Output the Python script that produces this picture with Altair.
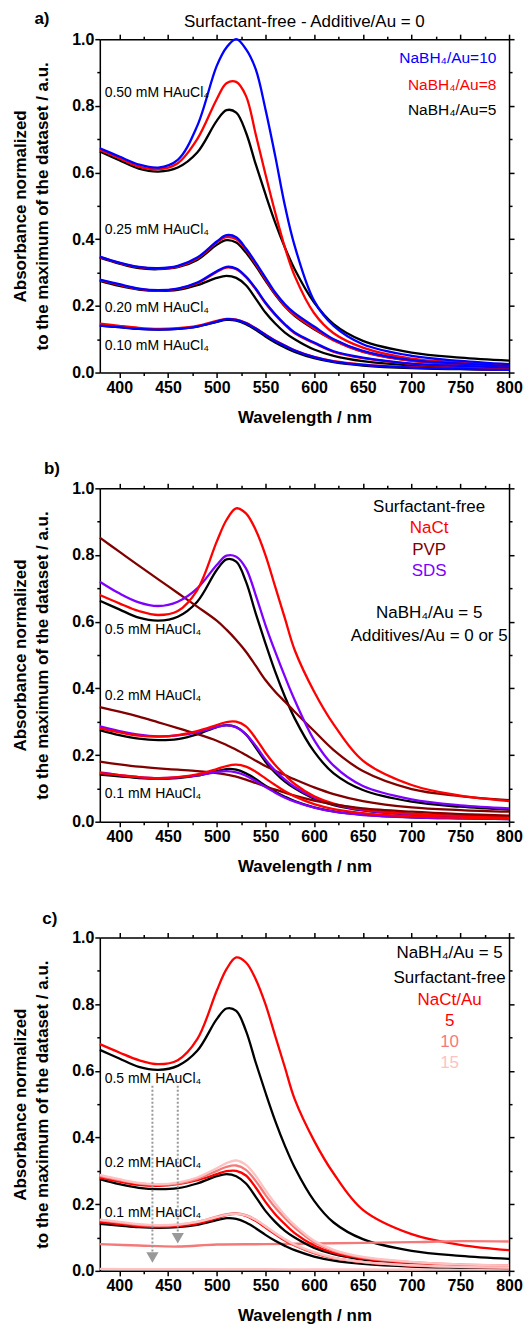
import altair as alt
import pandas as pd

FONT = "Liberation Sans"

# ---------------- data ----------------
WL = [380, 400, 420, 440, 460, 480, 500, 510, 520, 530, 540, 550, 560, 570, 580, 600, 620, 650, 700, 750, 800]

# Surfactant-free, NaBH4/Au = 5 (shared by all panels)
SF5_050 = [0.663, 0.637, 0.612, 0.603, 0.615, 0.66, 0.755, 0.787, 0.78, 0.72, 0.625, 0.535, 0.45, 0.375, 0.31, 0.21, 0.145, 0.095, 0.06, 0.045, 0.036]
SF5_025 = [0.345, 0.327, 0.313, 0.31, 0.316, 0.338, 0.383, 0.397, 0.39, 0.36, 0.32, 0.276, 0.234, 0.198, 0.17, 0.13, 0.098, 0.063, 0.036, 0.026, 0.02]
SF5_020 = [0.275, 0.26, 0.249, 0.245, 0.248, 0.262, 0.284, 0.29, 0.284, 0.262, 0.222, 0.18, 0.147, 0.12, 0.1, 0.069, 0.05, 0.034, 0.021, 0.016, 0.013]
SF5_010 = [0.141, 0.136, 0.131, 0.129, 0.131, 0.138, 0.152, 0.158, 0.156, 0.145, 0.128, 0.108, 0.09, 0.075, 0.062, 0.043, 0.031, 0.021, 0.013, 0.01, 0.008]

# panel a: NaBH4/Au = 10 and 8
A10_050 = [0.673, 0.648, 0.624, 0.615, 0.638, 0.74, 0.92, 0.975, 1.0, 0.97, 0.91, 0.79, 0.65, 0.5, 0.38, 0.215, 0.14, 0.085, 0.05, 0.035, 0.025]
A8_050 = [0.668, 0.643, 0.618, 0.61, 0.628, 0.7, 0.82, 0.868, 0.872, 0.83, 0.715, 0.595, 0.48, 0.375, 0.29, 0.178, 0.118, 0.075, 0.042, 0.03, 0.02]
A10_025 = [0.348, 0.33, 0.317, 0.313, 0.32, 0.345, 0.393, 0.412, 0.406, 0.372, 0.33, 0.285, 0.24, 0.205, 0.178, 0.138, 0.1, 0.065, 0.037, 0.027, 0.02]
A8_025 = [0.346, 0.329, 0.316, 0.312, 0.318, 0.342, 0.39, 0.406, 0.4, 0.368, 0.326, 0.28, 0.236, 0.2, 0.172, 0.132, 0.096, 0.062, 0.035, 0.026, 0.019]
A10_020 = [0.279, 0.265, 0.252, 0.247, 0.252, 0.27, 0.304, 0.317, 0.312, 0.288, 0.252, 0.21, 0.175, 0.145, 0.12, 0.09, 0.064, 0.045, 0.027, 0.02, 0.015]
A8_020 = [0.277, 0.263, 0.251, 0.246, 0.251, 0.268, 0.302, 0.315, 0.31, 0.286, 0.25, 0.208, 0.173, 0.143, 0.118, 0.088, 0.062, 0.043, 0.026, 0.019, 0.014]
A10_010 = [0.141, 0.136, 0.131, 0.129, 0.131, 0.138, 0.153, 0.16, 0.158, 0.148, 0.132, 0.113, 0.095, 0.08, 0.066, 0.046, 0.033, 0.023, 0.015, 0.011, 0.008]
A8_010 = [0.147, 0.14, 0.134, 0.131, 0.133, 0.14, 0.155, 0.161, 0.159, 0.149, 0.133, 0.114, 0.096, 0.081, 0.067, 0.047, 0.034, 0.024, 0.016, 0.012, 0.009]

# panel b: additives (Additive/Au = 5)
NACT5_050 = [0.68, 0.655, 0.632, 0.62, 0.632, 0.695, 0.84, 0.905, 0.94, 0.925, 0.875, 0.8, 0.705, 0.61, 0.515, 0.39, 0.292, 0.183, 0.11, 0.078, 0.062]
PVP5_050 = [0.852, 0.81, 0.768, 0.727, 0.686, 0.645, 0.603, 0.576, 0.545, 0.51, 0.468, 0.425, 0.39, 0.36, 0.33, 0.272, 0.215, 0.152, 0.098, 0.077, 0.065]
SDS5_050 = [0.72, 0.685, 0.658, 0.647, 0.66, 0.7, 0.77, 0.798, 0.795, 0.76, 0.68, 0.59, 0.51, 0.435, 0.365, 0.245, 0.168, 0.107, 0.067, 0.049, 0.04]
NACT5_020 = [0.28, 0.268, 0.258, 0.255, 0.26, 0.272, 0.29, 0.299, 0.3, 0.286, 0.25, 0.207, 0.17, 0.14, 0.113, 0.076, 0.054, 0.037, 0.024, 0.018, 0.015]
PVP5_020 = [0.344, 0.33, 0.315, 0.298, 0.281, 0.263, 0.243, 0.23, 0.216, 0.2, 0.183, 0.167, 0.153, 0.14, 0.127, 0.103, 0.083, 0.062, 0.043, 0.035, 0.03]
SDS5_020 = [0.286, 0.272, 0.261, 0.256, 0.259, 0.268, 0.284, 0.289, 0.283, 0.262, 0.228, 0.187, 0.153, 0.126, 0.104, 0.072, 0.052, 0.035, 0.022, 0.017, 0.013]
NACT5_010 = [0.146, 0.14, 0.134, 0.131, 0.134, 0.142, 0.158, 0.167, 0.171, 0.165, 0.15, 0.13, 0.11, 0.091, 0.076, 0.053, 0.038, 0.026, 0.016, 0.012, 0.01]
PVP5_010 = [0.18, 0.172, 0.165, 0.16, 0.156, 0.152, 0.146, 0.141, 0.135, 0.126, 0.116, 0.106, 0.096, 0.087, 0.078, 0.063, 0.052, 0.04, 0.03, 0.023, 0.018]
SDS5_010 = [0.148, 0.14, 0.134, 0.131, 0.133, 0.139, 0.149, 0.152, 0.148, 0.138, 0.122, 0.104, 0.087, 0.072, 0.06, 0.042, 0.03, 0.02, 0.013, 0.01, 0.008]

# panel c: NaCt/Au = 10 and 15
NACT10_020 = [0.285, 0.272, 0.262, 0.258, 0.262, 0.276, 0.3, 0.312, 0.316, 0.303, 0.27, 0.228, 0.19, 0.158, 0.13, 0.086, 0.06, 0.04, 0.026, 0.019, 0.016]
NACT15_020 = [0.288, 0.275, 0.264, 0.26, 0.265, 0.28, 0.308, 0.323, 0.331, 0.318, 0.285, 0.242, 0.202, 0.167, 0.137, 0.09, 0.063, 0.042, 0.027, 0.019, 0.016]
NACT10_010 = [0.152, 0.145, 0.138, 0.135, 0.138, 0.147, 0.163, 0.17, 0.173, 0.167, 0.153, 0.133, 0.112, 0.093, 0.077, 0.054, 0.039, 0.026, 0.016, 0.012, 0.01]
NACT15_010 = [0.154, 0.147, 0.14, 0.137, 0.139, 0.147, 0.161, 0.168, 0.171, 0.166, 0.153, 0.134, 0.114, 0.095, 0.079, 0.056, 0.04, 0.027, 0.017, 0.012, 0.01]
WL_FLAT = [380, 420, 460, 500, 550, 600, 650, 700, 750, 800]
NACT10_050 = [0.08, 0.076, 0.073, 0.079, 0.08, 0.082, 0.084, 0.086, 0.089, 0.088]
NACT15_050 = [0.006, 0.005, 0.005, 0.005, 0.005, 0.004, 0.004, 0.004, 0.005, 0.005]

# arrows (panel c)
ARROW_WL = [434, 460]
ARROW_TOP = [0.555, 0.555]
ARROW_HEAD = [0.04, 0.098]

# text
A_CONC = ["0.50 mM HAuCl\u2084", "0.25 mM HAuCl\u2084", "0.20 mM HAuCl\u2084", "0.10 mM HAuCl\u2084"]
A_CONC_Y = [0.838, 0.428, 0.194, 0.08]
A_LEG = ["NaBH\u2084/Au=10", "NaBH\u2084/Au=8", "NaBH\u2084/Au=5"]
A_LEG_Y = [0.943, 0.863, 0.788]
B_CONC = ["0.5 mM HAuCl\u2084", "0.2 mM HAuCl\u2084", "0.1 mM HAuCl\u2084"]
B_CONC_Y = [0.576, 0.378, 0.082]
B_LEG = ["Surfactant-free", "NaCt", "PVP", "SDS", "NaBH\u2084/Au = 5", "Additives/Au = 0 or 5"]
B_LEG_Y = [0.945, 0.88, 0.815, 0.752, 0.626, 0.556]
C_CONC = ["0.5 mM HAuCl\u2084", "0.2 mM HAuCl\u2084", "0.1 mM HAuCl\u2084"]
C_CONC_Y = [0.575, 0.325, 0.175]
C_LEG = ["NaBH\u2084/Au = 5", "Surfactant-free", "NaCt/Au", "5", "10", "15"]
C_LEG_Y = [0.953, 0.877, 0.812, 0.75, 0.687, 0.623]

XTICKS = [400, 425, 450, 475, 500, 525, 550, 575, 600, 625, 650, 675, 700, 725, 750, 775, 800]
YTICKS = [0.0, 0.1, 0.2, 0.3, 0.4, 0.5, 0.6, 0.7, 0.8, 0.9, 1.0]

BLACK, RED, BLUE = "#000000", "#FF0000", "#0000FF"
PVPC, SDSC = "#800000", "#8000FF"
N10C, N15C = "#F47A7A", "#FFC2C2"

# ---------------- helpers ----------------
XSCALE = alt.Scale(domain=[380, 800], nice=False, zero=False)
YSCALE = alt.Scale(domain=[0, 1], nice=False, zero=False)
XMAJ = "datum.value % 50 === 0"
YMAJ = "round(datum.value * 10) % 2 === 0"

common = dict(grid=False, domainColor="#000000", domainWidth=1.5, tickColor="#000000",
              tickWidth=1.5, labelFont=FONT, labelFontSize=16, labelFontWeight="bold",
              labelColor="#000000", titleFont=FONT, titleFontSize=17, titleFontWeight="bold",
              titleColor="#000000")

X_MAIN = alt.Axis(orient="bottom", values=XTICKS, labelExpr=f"{XMAJ} ? datum.label : ''",
                  tickSize={"condition": {"test": XMAJ, "value": 5}, "value": 3},
                  labelPadding=2, title="Wavelength / nm", titlePadding=14, labelFlush=False, **common)
Y_MAIN = alt.Axis(orient="left", values=YTICKS,
                  labelExpr=f"{YMAJ} ? format(datum.value, '.1f') : ''",
                  tickSize={"condition": {"test": YMAJ, "value": 5}, "value": 3},
                  labelPadding=1, title=["Absorbance normalized", "to the maximum of the dataset / a.u."],
                  titlePadding=20, titleLineHeight=22, **common)
X_MIR = alt.Axis(orient="top", values=XTICKS, labels=False, title=None,
                 tickSize={"condition": {"test": XMAJ, "value": 5}, "value": 3}, **common)
Y_MIR = alt.Axis(orient="right", values=YTICKS, labels=False, title=None,
                 tickSize={"condition": {"test": YMAJ, "value": 5}, "value": 3}, **common)


def line(wl, vals, color, mirror=False):
    df = pd.DataFrame({"wl": wl, "val": vals})
    return alt.Chart(df).mark_line(color=color, strokeWidth=2.3, interpolate="catmull-rom").encode(
        x=alt.X("wl:Q", scale=XSCALE, axis=X_MIR if mirror else X_MAIN),
        y=alt.Y("val:Q", scale=YSCALE, axis=Y_MIR if mirror else Y_MAIN),
    )


def texts(labels, ys, xpos, colors, align, size):
    df = pd.DataFrame({"t": labels, "val": ys, "wl": [xpos] * len(labels), "c": colors})
    return alt.Chart(df).mark_text(align=align, baseline="middle", font=FONT, fontSize=size).encode(
        x=alt.X("wl:Q", scale=XSCALE, axis=X_MAIN),
        y=alt.Y("val:Q", scale=YSCALE, axis=Y_MAIN),
        text="t:N",
        color=alt.Color("c:N", scale=None),
    )


def note(label, px, py, size=17, weight="bold", align="center"):
    return alt.Chart(pd.DataFrame({"t": [label]})).mark_text(
        font=FONT, fontSize=size, fontWeight=weight, align=align, baseline="middle", color="#000000"
    ).encode(text="t:N", x=alt.value(px), y=alt.value(py))


def panel(first, rest):
    inner = alt.layer(*rest)
    return alt.layer(first, inner).resolve_axis(x="independent", y="independent").properties(
        width=410, height=334)


# ---------------- panel a ----------------
pa = panel(
    line(WL, SF5_050, BLACK, mirror=True),
    [
        line(WL, A8_050, RED), line(WL, A10_050, BLUE),
        line(WL, SF5_025, BLACK), line(WL, A8_025, RED), line(WL, A10_025, BLUE),
        line(WL, SF5_020, BLACK), line(WL, A8_020, RED), line(WL, A10_020, BLUE),
        line(WL, SF5_010, BLACK), line(WL, A8_010, RED), line(WL, A10_010, BLUE),
        texts(A_CONC, A_CONC_Y, 385, [BLACK] * 4, "left", 14),
        texts(A_LEG, A_LEG_Y, 787, [BLUE, RED, BLACK], "right", 15.5),
        note("a)", -58, -20),
        note("Surfactant-free - Additive/Au = 0", 205, -17, weight="normal"),
    ],
)

# ---------------- panel b ----------------
pb = panel(
    line(WL, SF5_050, BLACK, mirror=True),
    [
        line(WL, PVP5_050, PVPC), line(WL, SDS5_050, SDSC), line(WL, NACT5_050, RED),
        line(WL, SF5_020, BLACK), line(WL, PVP5_020, PVPC), line(WL, SDS5_020, SDSC), line(WL, NACT5_020, RED),
        line(WL, SF5_010, BLACK), line(WL, PVP5_010, PVPC), line(WL, SDS5_010, SDSC), line(WL, NACT5_010, RED),
        texts(B_CONC, B_CONC_Y, 385, [BLACK] * 3, "left", 14),
        texts(B_LEG, B_LEG_Y, 718, [BLACK, RED, PVPC, SDSC, BLACK, BLACK], "center", 17),
        note("b)", -48, -19),
    ],
)

# ---------------- panel c ----------------
arrow_df = pd.DataFrame({"wl": ARROW_WL, "top": ARROW_TOP, "head": ARROW_HEAD})
arrow_lines = alt.Chart(arrow_df).mark_rule(color="#999999", strokeWidth=2, strokeDash=[2, 2]).encode(
    x=alt.X("wl:Q", scale=XSCALE, axis=X_MAIN),
    y=alt.Y("top:Q", scale=YSCALE, axis=Y_MAIN),
    y2="head:Q",
)
arrow_heads = alt.Chart(arrow_df).mark_point(shape="triangle-down", filled=True, size=150,
                                             color="#999999", opacity=1).encode(
    x=alt.X("wl:Q", scale=XSCALE, axis=X_MAIN),
    y=alt.Y("head:Q", scale=YSCALE, axis=Y_MAIN),
)

pc = panel(
    line(WL, SF5_050, BLACK, mirror=True),
    [
        line(WL, NACT5_050, RED),
        line(WL_FLAT, NACT10_050, N10C), line(WL_FLAT, NACT15_050, N15C),
        line(WL, SF5_020, BLACK), line(WL, NACT5_020, RED), line(WL, NACT10_020, N10C), line(WL, NACT15_020, N15C),
        line(WL, SF5_010, BLACK), line(WL, NACT5_010, RED), line(WL, NACT10_010, N10C), line(WL, NACT15_010, N15C),
        arrow_lines, arrow_heads,
        texts(C_CONC, C_CONC_Y, 385, [BLACK] * 3, "left", 14),
        texts(C_LEG, C_LEG_Y, 739, [BLACK, BLACK, RED, RED, N10C, N15C], "center", 17),
        note("c)", -50, -19),
    ],
)

chart = alt.vconcat(pa, pb, pc, spacing=116, bounds="flush").properties(
    padding={"left": 11, "top": 8, "right": 5, "bottom": 5}
).configure_view(strokeWidth=0).configure(font=FONT)

chart.save("out.html", embed_options={"renderer": "svg", "actions": False})
